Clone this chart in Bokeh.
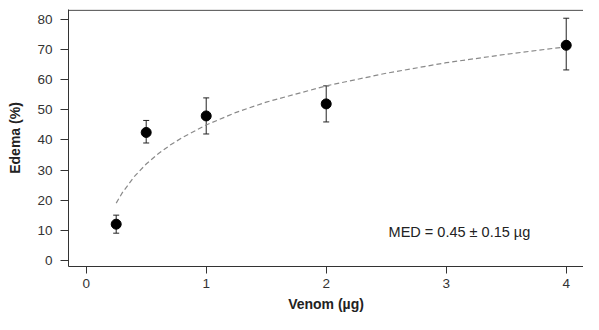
from bokeh.plotting import figure
from bokeh.models import ColumnDataSource, Whisker, TeeHead, FixedTicker, Range1d, Label, Span
from bokeh.embed import file_html
from bokeh.resources import INLINE

# Data
dose = [0.25, 0.5, 1.0, 2.0, 4.0]
edema = [12.0, 42.5, 48.0, 52.0, 71.5]
err_low = [9.0, 39.0, 42.0, 46.0, 63.3]
err_high = [15.0, 46.5, 54.0, 58.0, 80.5]

# fitted (dashed) curve
curve_x = [0.25, 0.3, 0.4, 0.5, 0.6, 0.7, 0.8, 1.0, 1.25, 1.5, 2.0, 2.5, 3.0, 3.5, 4.0]
curve_y = [19.0, 22.4, 27.8, 32.0, 35.4, 38.3, 40.8, 45.0, 49.2, 52.6, 58.0, 62.2, 65.7, 68.5, 71.0]

x_ticks = [0, 1, 2, 3, 4]
y_ticks = [0, 10, 20, 30, 40, 50, 60, 70, 80]
annotation = "MED = 0.45 \u00b1 0.15 \u00b5g"

FONT = "Liberation Sans"
AX = "#333333"

p = figure(width=583, height=314, output_backend="svg", toolbar_location=None,
           x_range=Range1d(-0.1475, 4.144), y_range=Range1d(-2.08, 83.4),
           min_border_left=68, min_border_right=0, min_border_top=9, min_border_bottom=46)
p.outline_line_color = None
p.xgrid.visible = False
p.ygrid.visible = False
p.background_fill_color = "white"

for ax, ticks in ((p.xaxis[0], x_ticks), (p.yaxis[0], y_ticks)):
    ax.ticker = FixedTicker(ticks=ticks)
    ax.minor_tick_line_color = None
    ax.major_tick_in = 0
    ax.major_tick_out = 8
    ax.major_tick_line_color = AX
    ax.axis_line_color = AX
    ax.major_label_text_font = FONT
    ax.major_label_text_font_size = "13.5px"
    ax.major_label_text_color = AX
    ax.major_label_standoff = 8
    ax.axis_label_text_font = FONT
    ax.axis_label_text_font_style = "bold"
    ax.axis_label_text_font_size = "14px"
    ax.axis_label_text_color = "#222222"

p.xaxis[0].axis_label = "Venom (\u00b5g)"
p.xaxis[0].major_tick_out = 7
p.xaxis[0].major_label_standoff = 5
p.xaxis[0].axis_label_standoff = 5
p.yaxis[0].axis_label = "Edema (%)"
p.yaxis[0].axis_label_standoff = 11
p.yaxis[0].major_label_orientation = 0

# top border of the plot box, just inside the frame (its right side lies outside the picture)
p.add_layout(Span(location=p.y_range.end - 0.25, dimension="width",
                  line_color=AX, line_width=1.2))

p.line(curve_x, curve_y, line_color="#8a8a8a", line_dash="5 3", line_width=1.2)

src = ColumnDataSource(dict(x=dose, y=edema, lo=err_low, hi=err_high))
w = Whisker(base="x", lower="lo", upper="hi", source=src, dimension="height",
            line_color="#222222", line_width=1,
            upper_head=TeeHead(size=6, line_color="#222222"),
            lower_head=TeeHead(size=6, line_color="#222222"))
p.add_layout(w)
p.scatter("x", "y", source=src, size=10, color="black")

p.add_layout(Label(x=2.52, y=9.5, text=annotation, text_font=FONT, text_font_size="14.5px",
                   text_color="#222222", text_baseline="middle", text_align="left"))

open("out.html", "w").write(file_html(p, INLINE))
